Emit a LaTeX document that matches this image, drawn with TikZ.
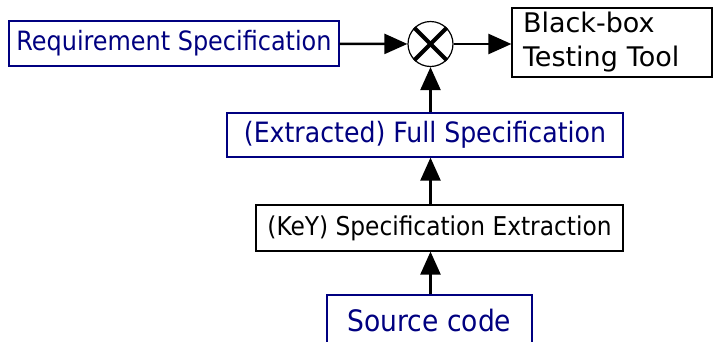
\documentclass[tikz,border=0pt]{standalone}
\usepackage{fontspec}
\setmainfont{DejaVu Sans}
\newfontfamily\condfont{DejaVu Sans Condensed}
\usetikzlibrary{arrows.meta}
\definecolor{specblue}{RGB}{0,0,128}
\tikzset{
  box/.style={draw, line width=1.2pt, inner sep=0pt, anchor=center},
  bluebox/.style={box, draw=specblue, text=specblue},
  flow/.style={line width=2.4pt, -{Triangle[length=23pt,width=20pt]}},
}
\begin{document}
\begin{tikzpicture}[x=1pt,y=-1pt]
  \useasboundingbox (0,0) rectangle (713,341);
  \node[bluebox, minimum width=330pt, minimum height=45pt, font=\condfont\fontsize{26.6}{30}\selectfont]
    (req) at (174,43.5) {Requirement Specification};
  \node[circle, draw, line width=1.2pt, minimum size=45pt, inner sep=0pt] (mix) at (430.5,44) {};
  \draw[line width=4pt] (mix.north west) -- (mix.south east);
  \draw[line width=4pt] (mix.north east) -- (mix.south west);
  \node[box, minimum width=200pt, minimum height=69pt, align=left, text width=178pt,
        font=\fontsize{27}{34}\selectfont]
    (tool) at (612,42.5) {Black-box\\Testing Tool};
  \node[bluebox, minimum width=396pt, minimum height=44pt, font=\condfont\fontsize{28}{30}\selectfont]
    (full) at (425,135) {(Extracted) Full Specification};
  \node[box, minimum width=367pt, minimum height=46pt, font=\condfont\fontsize{25.9}{30}\selectfont]
    (key) at (439.5,228) {(KeY) Specification Extraction};
  \node[bluebox, minimum width=205pt, minimum height=50pt, font=\condfont\fontsize{29.5}{32}\selectfont]
    (src) at (429.5,320) {Source code};
  \draw[flow] (req) -- (mix);
  \draw[flow] (mix) -- (tool.west |- mix);
  \draw[flow] (full.north -| mix) -- (mix);
  \draw[flow] (key.north -| mix) -- (full.south -| mix);
  \draw[flow] (src.north -| mix) -- (key.south -| mix);
\end{tikzpicture}
\end{document}
